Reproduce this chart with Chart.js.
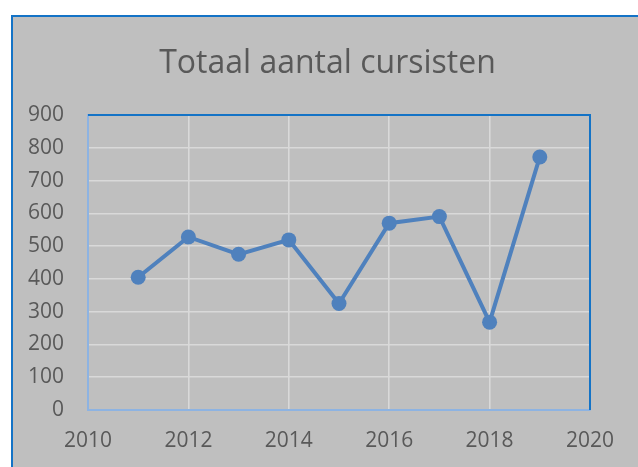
<!DOCTYPE html>
<html>
<head>
<meta charset="utf-8">
<script src="https://cdn.jsdelivr.net/npm/chart.js@4.4.1/dist/chart.umd.min.js"></script>
<style>
  html, body { margin: 0; padding: 0; background: #ffffff; }
  #wrap { position: absolute; left: 0; top: 0; width: 638px; height: 467px; }
</style>
</head>
<body>
<div id="wrap"><canvas id="c" width="638" height="467"></canvas></div>
<script>
const title = 'Totaal aantal cursisten';
const years = [2011, 2012, 2013, 2014, 2015, 2016, 2017, 2018, 2019];
const counts = [405, 528, 475, 519, 325, 570, 590, 268, 772];
const xMin = 2010, xMax = 2020, xStep = 2;
const yMin = 0, yMax = 900, yStep = 100;

const bgPlugin = {
  id: 'bg',
  beforeDraw(chart) {
    const ctx = chart.ctx;
    ctx.save();
    ctx.fillStyle = '#ffffff';
    ctx.fillRect(0, 0, chart.width, chart.height);
    ctx.fillStyle = '#bfbfbf';
    ctx.fillRect(11, 15, chart.width, chart.height);
    ctx.strokeStyle = '#1473c6';
    ctx.lineWidth = 2;
    ctx.beginPath();
    ctx.moveTo(12, chart.height + 5);
    ctx.lineTo(12, 16);
    ctx.lineTo(chart.width + 5, 16);
    ctx.stroke();
    ctx.restore();
  },
  beforeDatasetsDraw(chart) {
    const a = chart.chartArea, ctx = chart.ctx;
    ctx.save();
    ctx.strokeStyle = '#1473c6';
    ctx.lineWidth = 2;
    ctx.beginPath();
    ctx.moveTo(a.left, a.top);
    ctx.lineTo(a.right, a.top);
    ctx.lineTo(a.right, a.bottom);
    ctx.stroke();
    ctx.restore();
  }
};

new Chart(document.getElementById('c'), {
  type: 'line',
  data: {
    datasets: [{
      data: years.map((y, i) => ({ x: y, y: counts[i] })),
      borderColor: '#4f81bd',
      backgroundColor: '#4f81bd',
      borderWidth: 4,
      pointRadius: 7.5,
      pointHoverRadius: 7.5,
      pointBorderWidth: 0,
      tension: 0
    }]
  },
  options: {
    responsive: false,
    animation: false,
    events: [],
    layout: { padding: { left: 17, right: 0, top: 0, bottom: 0 } },
    plugins: {
      legend: { display: false },
      tooltip: { enabled: false },
      title: {
        display: true,
        text: title,
        color: '#595959',
        font: { family: 'Open Sans', size: 32, weight: 'normal', lineHeight: 1.2 },
        padding: { top: 45, bottom: 31.6 }
      }
    },
    scales: {
      x: {
        type: 'linear',
        min: xMin, max: xMax,
        afterFit(s) { s.height = 57; },
        ticks: {
          stepSize: xStep,
          color: '#595959',
          font: { family: 'Open Sans', size: 21 },
          padding: 18,
          maxRotation: 0,
          callback: v => String(v)
        },
        grid: { color: '#d9d9d9', lineWidth: 1.6, drawTicks: false },
        border: { color: '#8db3e2', width: 2 }
      },
      y: {
        min: yMin, max: yMax,
        afterFit(s) { s.width = 71; },
        ticks: {
          stepSize: yStep,
          color: '#595959',
          font: { family: 'Open Sans', size: 21 },
          padding: 24
        },
        grid: { color: '#d9d9d9', lineWidth: 1.6, drawTicks: false },
        border: { color: '#8db3e2', width: 2 }
      },
      spacer: {
        type: 'linear',
        position: 'right',
        display: true,
        afterFit(s) { s.width = 48; },
        ticks: { display: false },
        grid: { display: false, drawTicks: false },
        border: { display: false }
      }
    }
  },
  plugins: [bgPlugin]
});
</script>
</body>
</html>
